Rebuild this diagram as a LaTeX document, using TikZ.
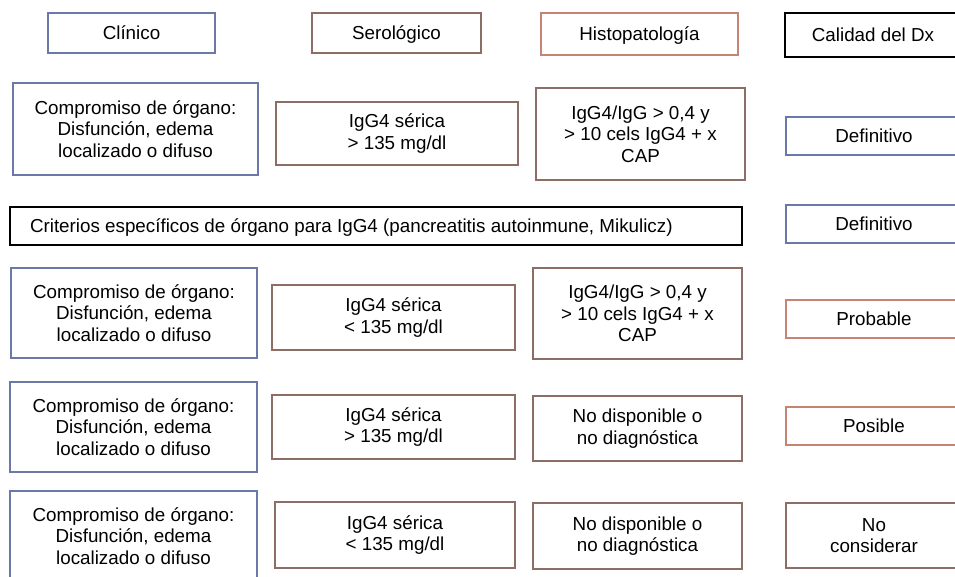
\documentclass[tikz,border=0pt]{standalone}
\usepackage{fontspec}
\setmainfont{Liberation Sans}
\usepackage[dvipsnames]{xcolor}
\definecolor{azul}{RGB}{108,120,168}
\definecolor{cafe}{RGB}{140,110,102}
\definecolor{sal}{RGB}{196,134,115}
\usepackage{tikz}
\begin{document}
\begin{tikzpicture}[x=1pt,y=-1pt,font=\fontsize{18.8}{21.5}\selectfont]
	\tikzstyle{caja}=[draw,rectangle,align=center,inner sep=0pt,line width=1.6pt,text=black];
	\tikzstyle{clin}=[caja,draw=azul];
	\tikzstyle{sero}=[caja,draw=cafe];
	\tikzstyle{hist}=[caja,draw=sal];
	\tikzstyle{negra}=[caja,draw=black,line width=2.4pt];
	\tikzstyle{uno}=[text height=13.5pt,text depth=0pt];
%<--------------------------------------------------------------------------->%

	\useasboundingbox (0,0) rectangle (955,577);
	\clip (0,0) rectangle (955,577);
	%% Headers
	\node[clin,uno,minimum width=167,minimum height=40] (hClin) at (131.5,33) {Clínico};
	\node[sero,uno,minimum width=169,minimum height=40] (hSero) at (396.5,33) {Serológico};
	\node[hist,uno,minimum width=197,minimum height=42] (hHist) at (639.5,34) {Histopatología};
	\node[negra,uno,minimum width=176,minimum height=44] (hDx) at (873,35) {Calidad del Dx};
	%% Row 1
	\node[clin,minimum width=245,minimum height=92] (clinA) at (135.5,129) {Compromiso de órgano:\\Disfunción, edema\\localizado o difuso};
	\node[sero,minimum width=242,minimum height=63] (seroA) at (397,133.5) {IgG4 sérica\\> 135 mg/dl};
	\node[sero,minimum width=209,minimum height=92] (histA) at (640.5,134) {IgG4/IgG > 0,4 y\\> 10 cels IgG4 + x\\CAP};
	\node[clin,uno,line width=1.3pt,minimum width=176,minimum height=38] (dxA) at (874,136) {Definitivo};
	%% Row 2
	\node[negra,uno,text width=692,inner xsep=20,minimum height=38,align=flush left] (crit) at (376,226) {Criterios específicos de órgano para IgG4 (pancreatitis autoinmune, Mikulicz)};
	\node[clin,uno,line width=1.3pt,minimum width=176,minimum height=38] (dxB) at (874,224) {Definitivo};
	%% Row 3
	\node[clin,minimum width=246,minimum height=90] (clinC) at (134,313) {Compromiso de órgano:\\Disfunción, edema\\localizado o difuso};
	\node[sero,minimum width=243,minimum height=65] (seroC) at (393.5,317.5) {IgG4 sérica\\< 135 mg/dl};
	\node[sero,minimum width=209,minimum height=91] (histC) at (637.5,313.5) {IgG4/IgG > 0,4 y\\> 10 cels IgG4 + x\\CAP};
	\node[hist,uno,line width=1.3pt,minimum width=176,minimum height=38] (dxC) at (874,319) {Probable};
	%% Row 4
	\node[clin,minimum width=247,minimum height=90] (clinD) at (133.5,427) {Compromiso de órgano:\\Disfunción, edema\\localizado o difuso};
	\node[sero,minimum width=243,minimum height=64] (seroD) at (393.5,427) {IgG4 sérica\\> 135 mg/dl};
	\node[sero,minimum width=209,minimum height=65] (histD) at (637.5,428.5) {No disponible o\\no diagnóstica};
	\node[hist,uno,line width=1.1pt,minimum width=176,minimum height=38] (dxD) at (874,426) {Posible};
	%% Row 5
	\node[clin,minimum width=247,minimum height=90] (clinE) at (133.5,536) {Compromiso de órgano:\\Disfunción, edema\\localizado o difuso};
	\node[sero,minimum width=240,minimum height=66] (seroE) at (395,535) {IgG4 sérica\\< 135 mg/dl};
	\node[sero,minimum width=209,minimum height=66] (histE) at (637.5,536) {No disponible o\\no diagnóstica};
	\node[sero,minimum width=176,minimum height=65] (dxE) at (874,535.5) {No\\considerar};
\end{tikzpicture}
\end{document}
